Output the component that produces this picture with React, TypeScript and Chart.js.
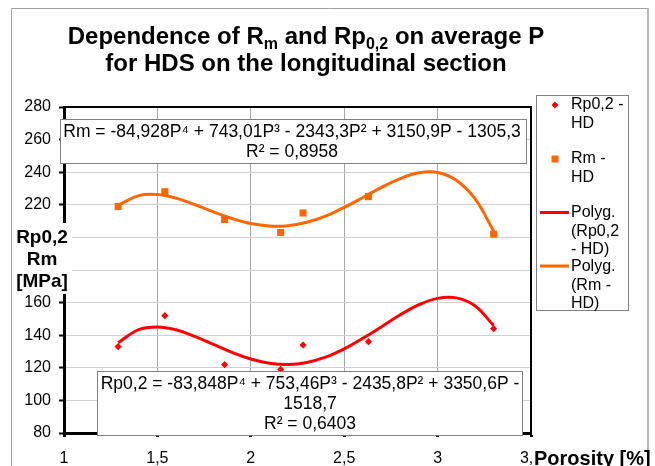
import React, { useEffect, useRef } from "react";
import { Chart, registerables } from "chart.js";

Chart.register(...registerables);

// ---------- data ----------
const porosity = [1.29, 1.54, 1.86, 2.16, 2.28, 2.63, 3.3];
const rp02HD = [133, 152, 122, 119, 134, 136, 144];
const rmHD = [219, 228, 211, 203, 215, 225, 202];

// points
const trendP = [1.29, 1.4, 1.5, 1.6, 1.7, 1.8, 1.9, 2.0, 2.1, 2.2, 2.3, 2.4, 2.5, 2.6, 2.7, 2.8, 2.9, 3.0, 3.1, 3.2, 3.3];
const rp02Trend = [135.4, 143.4, 145.1, 143.3, 139.3, 134.4, 129.5, 125.4, 122.8, 122.0, 123.3, 126.5, 131.6, 138.1, 145.2, 152.5, 158.7, 162.6, 162.9, 158.1, 145.9];
const rmTrend = [219.7, 225.6, 226.3, 224.1, 220.2, 215.7, 211.6, 208.5, 207.0, 207.2, 209.3, 213.1, 218.4, 224.5, 230.7, 236.1, 239.6, 239.8, 235.1, 223.8, 203.9];

const xTicks = [1, 1.5, 2, 2.5, 3, 3.5];
const yTicks = [80, 100, 120, 140, 160, 180, 200, 220, 240, 260, 280];

const seriesNames = ["Rp0,2 - HD", "Rm - HD", "Polyg. (Rp0,2 - HD)", "Polyg. (Rm - HD)"];
const legendLines = [["Rp0,2 -", "HD"], ["Rm -", "HD"], ["Polyg.", "(Rp0,2", "- HD)"], ["Polyg.", "(Rm -", "HD)"]];
const rmEquation = ["Rm = -84,928P\u2074 + 743,01P\u00b3 - 2343,3P\u00b2 + 3150,9P - 1305,3", "R\u00b2 = 0,8958"];
const rpEquation = ["Rp0,2 = -83,848P\u2074 + 753,46P\u00b3 - 2435,8P\u00b2 + 3350,6P -", "1518,7", "R\u00b2 = 0,6403"];
const titleLine1 = [
  { t: "Dependence of R", sub: false },
  { t: "m", sub: true },
  { t: " and Rp", sub: false },
  { t: "0,2", sub: true },
  { t: " on average P", sub: false },
];
const titleLine2 = "for HDS on the longitudinal section";
const yTitle = ["Rp0,2", "Rm", "[MPa]"];
const xTitle = "Porosity [%]";

const RED = "#ff0000";
const ORANGE = "#ff6600";
const FONT = "'Liberation Sans', Arial, Helvetica, sans-serif";

const overlayPlugin = {
  id: "overlay",
  afterDraw(chart: any) {
    const ctx: CanvasRenderingContext2D = chart.ctx;
    const { left, right, top, bottom } = chart.chartArea;
    ctx.save();

    // outer frame
    ctx.strokeStyle = "#a0a0a0";
    ctx.lineWidth = 1;
    ctx.beginPath();
    ctx.moveTo(11.5, 470);
    ctx.lineTo(11.5, 8.5);
    ctx.lineTo(647, 8.5);
    ctx.stroke();
    ctx.strokeStyle = "#b8b8b8";
    ctx.lineWidth = 2;
    ctx.beginPath();
    ctx.moveTo(648, 8);
    ctx.lineTo(648, 470);
    ctx.stroke();

    // plot area top / right border
    ctx.strokeStyle = "#000";
    ctx.lineWidth = 2;
    ctx.beginPath();
    ctx.moveTo(left, top);
    ctx.lineTo(right, top);
    ctx.lineTo(right, bottom);
    ctx.stroke();

    const box = (x: number, y: number, w: number, h: number) => {
      ctx.fillStyle = "#fff";
      ctx.fillRect(x, y, w, h);
      ctx.strokeStyle = "#808080";
      ctx.lineWidth = 1;
      ctx.strokeRect(x + 0.5, y + 0.5, w - 1, h - 1);
    };

    // equation boxes
    ctx.textAlign = "center";
    ctx.textBaseline = "middle";
    ctx.font = `17.5px ${FONT}`;
    box(60, 119, 467, 45);
    ctx.fillStyle = "#000";
    rmEquation.forEach((s, i) => ctx.fillText(s, 292, 132 + i * 20));
    box(97, 371, 426, 65);
    ctx.fillStyle = "#000";
    rpEquation.forEach((s, i) => ctx.fillText(s, 310, 384 + i * 20));

    // legend
    box(536, 95, 93, 216);
    ctx.textAlign = "left";
    ctx.font = `16px ${FONT}`;
    ctx.fillStyle = "#000";
    const lineStarts = [105, 159, 213, 267];
    legendLines.forEach((lines, k) => {
      lines.forEach((s, i) => ctx.fillText(s, 571, lineStarts[k] + i * 18.3));
    });
    // markers
    ctx.fillStyle = RED;
    ctx.beginPath();
    ctx.moveTo(555, 101.5);
    ctx.lineTo(558.5, 105);
    ctx.lineTo(555, 108.5);
    ctx.lineTo(551.5, 105);
    ctx.closePath();
    ctx.fill();
    ctx.fillStyle = ORANGE;
    ctx.fillRect(551.5, 155.5, 7, 7);
    ctx.lineWidth = 3;
    ctx.strokeStyle = RED;
    ctx.beginPath();
    ctx.moveTo(540, 212.5);
    ctx.lineTo(569, 212.5);
    ctx.stroke();
    ctx.strokeStyle = ORANGE;
    ctx.beginPath();
    ctx.moveTo(540, 266);
    ctx.lineTo(569, 266);
    ctx.stroke();

    // y axis title
    ctx.fillStyle = "#fff";
    ctx.fillRect(15, 223, 57, 71);
    ctx.fillStyle = "#000";
    ctx.textAlign = "center";
    ctx.font = `bold 19px ${FONT}`;
    yTitle.forEach((s, i) => ctx.fillText(s, 42, 238 + i * 22));

    // x axis title
    ctx.fillStyle = "#fff";
    ctx.fillRect(533, 446, 112, 22);
    ctx.fillStyle = "#000";
    ctx.textAlign = "left";
    ctx.font = `bold 20px ${FONT}`;
    ctx.fillText(xTitle, 534, 459);

    // chart title with subscripts
    ctx.textBaseline = "alphabetic";
    const big = `bold 24px ${FONT}`;
    const small = `bold 16px ${FONT}`;
    let total = 0;
    titleLine1.forEach((p) => {
      ctx.font = p.sub ? small : big;
      total += ctx.measureText(p.t).width;
    });
    let x = 306 - total / 2;
    titleLine1.forEach((p) => {
      ctx.font = p.sub ? small : big;
      ctx.fillText(p.t, x, p.sub ? 49 : 44);
      x += ctx.measureText(p.t).width;
    });
    ctx.font = big;
    ctx.textAlign = "center";
    ctx.fillText(titleLine2, 306, 71);

    ctx.restore();
  },
};

export default function App() {
  const ref = useRef<HTMLCanvasElement | null>(null);

  useEffect(() => {
    if (!ref.current) return;
    const pts = (xs: number[], ys: number[]) => xs.map((x, i) => ({ x, y: ys[i] }));
    const chart = new Chart(ref.current, {
      type: "line",
      data: {
        datasets: [
          {
            label: seriesNames[0],
            data: pts(porosity, rp02HD),
            showLine: false,
            pointStyle: "rectRot",
            pointRadius: 3.6,
            pointBorderWidth: 0,
            backgroundColor: RED,
            borderColor: RED,
          },
          {
            label: seriesNames[1],
            data: pts(porosity, rmHD),
            showLine: false,
            pointStyle: "rect",
            pointRadius: 5,
            pointBorderWidth: 0,
            backgroundColor: ORANGE,
            borderColor: ORANGE,
          },
          {
            label: seriesNames[2],
            data: pts(trendP, rp02Trend),
            borderColor: RED,
            borderWidth: 3,
            pointRadius: 0,
            tension: 0.4,
            fill: false,
          },
          {
            label: seriesNames[3],
            data: pts(trendP, rmTrend),
            borderColor: ORANGE,
            borderWidth: 3,
            pointRadius: 0,
            tension: 0.4,
            fill: false,
          },
        ],
      },
      options: {
        responsive: false,
        animation: false,
        devicePixelRatio: 1,
        events: [],
        layout: { padding: { left: 0, top: 107, right: 124, bottom: 0 } },
        plugins: {
          legend: { display: false },
          tooltip: { enabled: false },
          title: { display: false },
        },
        scales: {
          x: {
            type: "linear",
            min: 1,
            max: 3.5,
            afterBuildTicks: (s: any) => {
              s.ticks = xTicks.map((v) => ({ value: v }));
            },
            afterFit: (s: any) => {
              s.height = 33;
            },
            ticks: {
              autoSkip: false,
              maxRotation: 0,
              color: "#000",
              padding: 12,
              font: { family: FONT, size: 16 },
              callback: (v: any) => String(v).replace(".", ","),
            },
            grid: {
              color: (c: any) =>
                c.tick && (c.tick.value === 1 || c.tick.value === 3.5) ? "rgba(0,0,0,0)" : "#a6a6a6",
              lineWidth: 1,
              tickColor: "#000",
              tickLength: 4,
              tickWidth: 3,
            },
            border: { display: true, color: "#000", width: 3 },
          },
          y: {
            type: "linear",
            min: 80,
            max: 280,
            afterBuildTicks: (s: any) => {
              s.ticks = yTicks.map((v) => ({ value: v }));
            },
            afterFit: (s: any) => {
              s.width = 64;
            },
            ticks: {
              color: "#000",
              padding: 8,
              font: { family: FONT, size: 16 },
            },
            grid: {
              color: (c: any) =>
                c.tick && (c.tick.value === 80 || c.tick.value === 280) ? "rgba(0,0,0,0)" : "#d0d0d0",
              lineWidth: 1,
              tickColor: "#000",
              tickLength: 5,
              tickWidth: 2,
            },
            border: { display: true, color: "#000", width: 3 },
          },
        },
      },
      plugins: [overlayPlugin],
    } as any);
    return () => chart.destroy();
  }, []);

  return (
    <div style={{ position: "fixed", left: 0, top: 0, width: 655, height: 466, background: "#fff" }}>
      <canvas ref={ref} width={655} height={466} style={{ display: "block" }} />
    </div>
  );
}
